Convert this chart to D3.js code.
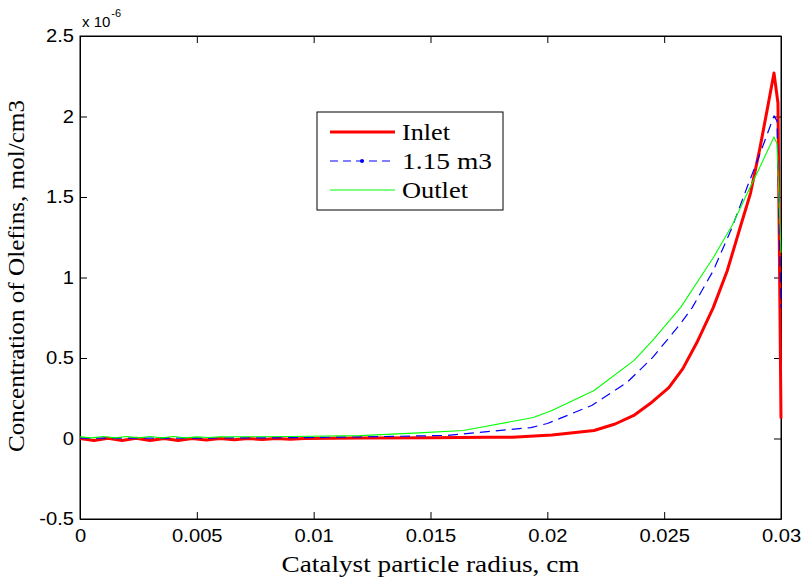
<!DOCTYPE html>
<html>
<head>
<meta charset="utf-8">
<script src="https://cdn.jsdelivr.net/npm/d3@7"></script>
<style>
  body { margin: 0; background: #fff; }
  svg { display: block; }
  .tick text { font-family: "Liberation Sans", Arial, sans-serif; font-size: 18px; fill: #000; }
</style>
</head>
<body>
<div id="chart"></div>
<script>
// rayon (cm) et concentration (x 1e-6 mol/cm3), une paire de tableaux par courbe
var inletX = [0, 0.0006, 0.0012, 0.0018, 0.0024, 0.003, 0.0036, 0.0042, 0.0048, 0.0054, 0.006, 0.0066, 0.0072, 0.0078, 0.0084, 0.009, 0.0096, 0.012, 0.015, 0.0175, 0.0185, 0.0202, 0.022, 0.0229, 0.0237, 0.0244, 0.0252, 0.0258, 0.0264, 0.0271, 0.0277, 0.0283, 0.0287, 0.0291, 0.02944, 0.0297, 0.02987, 0.03];
var inletY = [0, -0.012, 0.002, -0.012, 0.002, -0.012, 0, -0.012, 0, -0.01, 0, -0.008, 0, -0.006, 0, -0.004, 0, 0.003, 0.005, 0.007, 0.008, 0.022, 0.05, 0.09, 0.143, 0.217, 0.316, 0.434, 0.596, 0.813, 1.042, 1.334, 1.526, 1.805, 2.066, 2.27, 2.084, 0.124];

var midX = [0, 0.003, 0.006, 0.009, 0.012, 0.0157, 0.0193, 0.02, 0.0219, 0.0234, 0.0245, 0.0257, 0.0262, 0.0271, 0.0279, 0.02854, 0.0291, 0.0297, 0.02983, 0.03];
var midY = [0.002, 0.002, 0.003, 0.005, 0.01, 0.019, 0.068, 0.093, 0.205, 0.347, 0.502, 0.713, 0.813, 1.042, 1.309, 1.557, 1.768, 2.004, 1.973, 0.813];

var outletX = [0, 0.0005, 0.001, 0.0015, 0.002, 0.0025, 0.003, 0.0035, 0.004, 0.0045, 0.005, 0.0055, 0.006, 0.009, 0.012, 0.0145, 0.0164, 0.0171, 0.0194, 0.0202, 0.022, 0.0237, 0.0245, 0.0257, 0.0271, 0.0279, 0.02867, 0.02902, 0.0297, 0.02983, 0.03];
var outletY = [0.01, 0.004, 0.012, 0.004, 0.012, 0.004, 0.012, 0.004, 0.012, 0.004, 0.01, 0.006, 0.01, 0.012, 0.018, 0.035, 0.05, 0.068, 0.13, 0.174, 0.298, 0.484, 0.608, 0.813, 1.123, 1.321, 1.557, 1.663, 1.873, 1.83, 1.154];

var seriesNames = ["Inlet", "1.15 m3", "Outlet"];
var xTicks = [0, 0.005, 0.01, 0.015, 0.02, 0.025, 0.03];
var yTicks = [-0.5, 0, 0.5, 1, 1.5, 2, 2.5];

var W = 806, H = 582;
var m = {left: 80, right: 25, top: 36, bottom: 63};
var stretch = 1.12; // le texte de la figure d'origine est un peu elargi

var svg = d3.select('#chart').append('svg').attr('width', W).attr('height', H);

var x = d3.scaleLinear().domain([0, 0.03]).range([m.left, W - m.right]);
var y = d3.scaleLinear().domain([-0.5, 2.5]).range([H - m.bottom, m.top]);

var fmt = function(d){ return String(d); };

// axes avec ticks vers l'interieur, sur les 4 cotes (box on)
svg.append('g').attr('transform', 'translate(0,' + (H - m.bottom) + ')')
   .call(d3.axisBottom(x).tickValues(xTicks).tickFormat(fmt).tickSizeInner(-7).tickSizeOuter(0).tickPadding(10));
svg.append('g').attr('transform', 'translate(0,' + m.top + ')')
   .call(d3.axisTop(x).tickValues(xTicks).tickFormat('').tickSizeInner(-7).tickSizeOuter(0));
svg.append('g').attr('transform', 'translate(' + m.left + ',0)')
   .call(d3.axisLeft(y).tickValues(yTicks).tickFormat(fmt).tickSizeInner(-7).tickSizeOuter(0).tickPadding(6));
svg.append('g').attr('transform', 'translate(' + (W - m.right) + ',0)')
   .call(d3.axisRight(y).tickValues(yTicks).tickFormat('').tickSizeInner(-7).tickSizeOuter(0));

svg.selectAll('.domain').attr('stroke', '#000');
svg.selectAll('.tick line').attr('stroke', '#000');
svg.selectAll('.tick text').each(function(){
  var t = d3.select(this);
  if(t.text() != '') t.attr('textLength', this.getComputedTextLength() * stretch).attr('lengthAdjust', 'spacingAndGlyphs');
});

// cadre
svg.append('rect')
   .attr('x', m.left).attr('y', m.top)
   .attr('width', W - m.left - m.right).attr('height', H - m.top - m.bottom)
   .attr('fill', 'none').attr('stroke', '#000').attr('stroke-width', 1);

var line = d3.line().x(function(d){ return x(d[0]); }).y(function(d){ return y(d[1]); });

function pairs(xs, ys){ return xs.map(function(v, i){ return [v, ys[i]]; }); }

var styles = [
  {color: '#ff0000', width: 3, dash: null},
  {color: '#0000ff', width: 1.2, dash: '10,6'},
  {color: '#00ff00', width: 1.1, dash: null}
];
var data = [pairs(inletX, inletY), pairs(midX, midY), pairs(outletX, outletY)];

data.forEach(function(d, i){
  svg.append('path').datum(d)
     .attr('d', line)
     .attr('fill', 'none')
     .attr('stroke', styles[i].color)
     .attr('stroke-width', styles[i].width)
     .attr('stroke-dasharray', styles[i].dash)
     .attr('stroke-linejoin', 'round');
});

// multiplicateur "x 10^-6"
var mult = svg.append('text').attr('x', 82).attr('y', 27)
   .attr('font-family', '"Liberation Sans", Arial, sans-serif').attr('font-size', 15);
mult.append('tspan').text('x 10');
mult.append('tspan').attr('dy', -10).attr('dx', 1).attr('font-size', 11).text('-6');

// titres des axes
svg.append('text')
   .attr('x', (m.left + W - m.right) / 2).attr('y', 572)
   .attr('text-anchor', 'middle')
   .attr('font-family', '"Liberation Serif", "Times New Roman", serif').attr('font-size', 24)
   .attr('textLength', 298).attr('lengthAdjust', 'spacingAndGlyphs')
   .text('Catalyst particle radius, cm');
svg.append('text')
   .attr('transform', 'translate(24,276) rotate(-90)')
   .attr('text-anchor', 'middle')
   .attr('font-family', '"Liberation Serif", "Times New Roman", serif').attr('font-size', 24)
   .attr('textLength', 352).attr('lengthAdjust', 'spacingAndGlyphs')
   .text('Concentration of Olefins, mol/cm3');

// legende
var leg = svg.append('g');
leg.append('rect').attr('x', 317).attr('y', 112).attr('width', 186).attr('height', 98)
   .attr('fill', '#fff').attr('stroke', '#000').attr('stroke-width', 1);
var rows = [132, 161, 190];
var legLen = [48, 90, 66];
seriesNames.forEach(function(name, i){
  leg.append('line').attr('x1', 330).attr('x2', 395).attr('y1', rows[i]).attr('y2', rows[i])
     .attr('stroke', styles[i].color).attr('stroke-width', styles[i].width)
     .attr('stroke-dasharray', i == 1 ? '8,5' : null);
  if(i == 1){
    leg.append('circle').attr('cx', 362).attr('cy', rows[i]).attr('r', 2).attr('fill', styles[i].color);
  }
  leg.append('text').attr('x', 402).attr('y', rows[i] + 8)
     .attr('font-family', '"Liberation Serif", "Times New Roman", serif').attr('font-size', 23)
     .attr('textLength', legLen[i]).attr('lengthAdjust', 'spacingAndGlyphs')
     .text(name);
});
</script>
</body>
</html>
